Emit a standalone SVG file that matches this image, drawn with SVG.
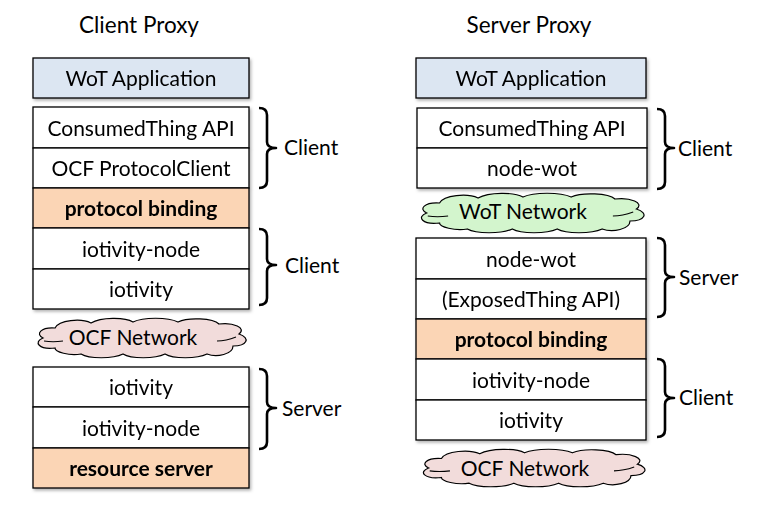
<svg xmlns="http://www.w3.org/2000/svg" width="767" height="518" viewBox="0 0 767 518">
<style>
  text { font-family: Lato, "Open Sans", "Liberation Sans", sans-serif; font-size: 21px; fill: #000; }
  .t { text-anchor: middle; }
  .b { font-weight: bold; }
  .title { font-size: 22.5px; text-anchor: middle; }
  .row { fill: #fff; stroke: #000; stroke-width: 1.3; }
  .app { fill: #dce6f2; stroke: #000; stroke-width: 1.3; }
  .pb { fill: #fbd5b5; stroke: #000; stroke-width: 1.3; }
  .br { fill: none; stroke: #000; stroke-width: 2.6; stroke-linejoin: round; }
  .cl { stroke: #000; stroke-width: 1.2; }
  .inner { fill: none; stroke: #000; stroke-width: 1.1; }
</style>
<defs>
  <filter id="sh" x="-5%" y="-5%" width="115%" height="130%">
    <feDropShadow dx="1.5" dy="2" stdDeviation="1.5" flood-color="#000" flood-opacity="0.3"/>
  </filter>
  <path id="cloud" vector-effect="non-scaling-stroke" d="M10,20 C2,16 8,9 22,10 C26,2 48,0 58,5 C68,-1 92,-1 100,4 C110,-1 135,-1 145,4 C155,-1 180,0 186,6 C200,4 214,10 206,16 C218,20 214,28 200,28 C200,36 184,40 174,36 C164,41 140,41 132,36 C122,41 98,41 90,36 C80,41 56,41 48,36 C36,38 22,34 22,30 C6,32 0,24 10,20 Z"/>
  <path id="cloudIn" vector-effect="non-scaling-stroke" d="M11,23 C17,24 23,24 30,23 M184,23 C192,23 198,21 203,19"/>
</defs>

<text class="title" x="139" y="33">Client Proxy</text>
<text class="title" x="529" y="33">Server Proxy</text>

<!-- Left column -->
<g id="l-app" filter="url(#sh)">
  <rect class="app" x="33" y="58" width="216" height="40"/>
  <text class="t" x="141" y="85.5">WoT Application</text>
</g>
<g id="l-client-stack" filter="url(#sh)">
  <rect class="row" x="33" y="107" width="216" height="41"/>
  <text class="t" x="141" y="135.5">ConsumedThing API</text>
  <rect class="row" x="33" y="148" width="216" height="40"/>
  <text class="t" x="141" y="175.5">OCF ProtocolClient</text>
  <rect class="pb" x="33" y="188" width="216" height="40"/>
  <text class="t b" x="141" y="215.5">protocol binding</text>
  <rect class="row" x="33" y="228" width="216" height="41"/>
  <text class="t" x="141" y="256.5">iotivity-node</text>
  <rect class="row" x="33" y="269" width="216" height="40"/>
  <text class="t" x="141" y="296.5">iotivity</text>
</g>
<g id="l-ocf-network">
  <use href="#cloud" class="cl" fill="#f2dcdb" transform="translate(33,318)"/>
  <use href="#cloudIn" class="inner" transform="translate(33,318)"/>
  <text class="t" x="133" y="345">OCF Network</text>
</g>
<g id="l-server-stack" filter="url(#sh)">
  <rect class="row" x="33" y="367" width="216" height="40"/>
  <text class="t" x="141" y="394.5">iotivity</text>
  <rect class="row" x="33" y="407" width="216" height="41"/>
  <text class="t" x="141" y="435.5">iotivity-node</text>
  <rect class="pb" x="33" y="448" width="216" height="40"/>
  <text class="t b" x="141" y="475.5">resource server</text>
</g>

<!-- Right column -->
<g id="r-app" filter="url(#sh)">
  <rect class="app" x="416" y="58" width="230" height="40"/>
  <text class="t" x="531" y="85.5">WoT Application</text>
</g>
<g id="r-client-stack" filter="url(#sh)">
  <rect class="row" x="417" y="108" width="230" height="40"/>
  <text class="t" x="532" y="135.5">ConsumedThing API</text>
  <rect class="row" x="417" y="148" width="230" height="40"/>
  <text class="t" x="532" y="175.5">node-wot</text>
</g>
<g id="r-wot-network">
  <use href="#cloud" class="cl" fill="#d3f5cd" transform="translate(416,193) scale(1.07,1)"/>
  <use href="#cloudIn" class="inner" transform="translate(416,193) scale(1.07,1)"/>
  <text class="t" x="523" y="219">WoT Network</text>
</g>
<g id="r-server-stack" filter="url(#sh)">
  <rect class="row" x="416" y="238" width="230" height="41"/>
  <text class="t" x="531" y="266.5">node-wot</text>
  <rect class="row" x="416" y="279" width="230" height="40"/>
  <text class="t" x="531" y="306.5">(ExposedThing API)</text>
  <rect class="pb" x="416" y="319" width="230" height="40"/>
  <text class="t b" x="531" y="346.5">protocol binding</text>
  <rect class="row" x="416" y="359" width="230" height="41"/>
  <text class="t" x="531" y="387.5">iotivity-node</text>
  <rect class="row" x="416" y="400" width="230" height="40"/>
  <text class="t" x="531" y="427.5">iotivity</text>
</g>
<g id="r-ocf-network">
  <use href="#cloud" class="cl" fill="#f2dcdb" transform="translate(418,449) scale(1.065,0.95)"/>
  <use href="#cloudIn" class="inner" transform="translate(418,449) scale(1.065,0.95)"/>
  <text class="t" x="525" y="475.5">OCF Network</text>
</g>

<!-- Brackets -->
<g id="connectors">
  <path class="br" d="M259,108 Q267,108 267,115 L267,142 Q267,148 276,148 Q267,148 267,154 L267,181 Q267,188 259,188"/>
  <path class="br" d="M259,229 Q267,229 267,236 L267,259 Q267,265 276,265 Q267,265 267,271 L267,298 Q267,305 259,305"/>
  <path class="br" d="M259,369 Q267,369 267,376 L267,402 Q267,408 276,408 Q267,408 267,414 L267,442 Q267,449 259,449"/>
  <path class="br" d="M657,109 Q665,109 665,116 L665,142 Q665,148 674,148 Q665,148 665,154 L665,182 Q665,189 657,189"/>
  <path class="br" d="M657,238 Q665,238 665,245 L665,271 Q665,277 674,277 Q665,277 665,283 L665,310 Q665,317 657,317"/>
  <path class="br" d="M657,359 Q665,359 665,366 L665,392 Q665,398 674,398 Q665,398 665,404 L665,430 Q665,437 657,437"/>
</g>
<g id="labels">
  <text x="284" y="155">Client</text>
  <text x="285" y="272.5">Client</text>
  <text x="282" y="415.5">Server</text>
  <text x="678" y="155.5">Client</text>
  <text x="679" y="284.5">Server</text>
  <text x="679" y="404.5">Client</text>
</g>
</svg>
